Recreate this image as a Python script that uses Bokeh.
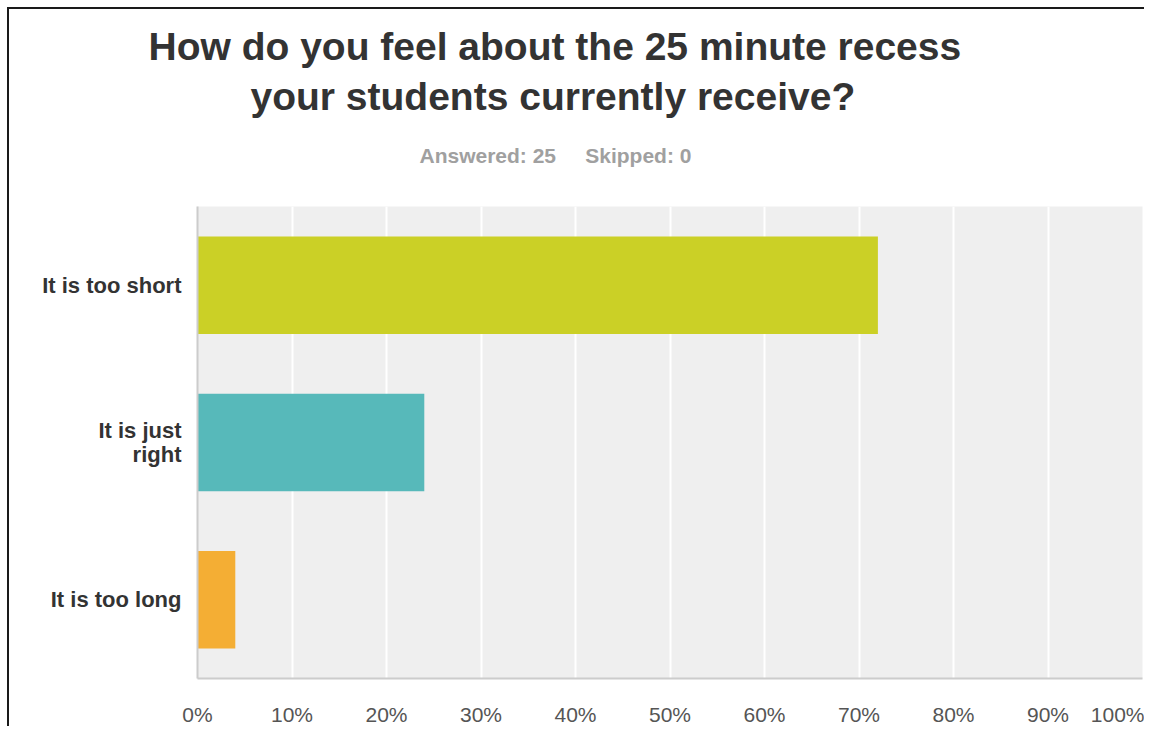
from bokeh.plotting import figure
from bokeh.models import FactorRange, Range1d, Title, FixedTicker, CustomJSTickFormatter
from bokeh.embed import file_html
from bokeh.resources import INLINE

categories = ["It is too short", "It is just right", "It is too long"]
category_labels = ["It is too short", "It is just\nright", "It is too long"]
percents = [72, 24, 4]
colors = ["#cbd026", "#57b9ba", "#f4ae34"]
x_ticks = [0, 10, 20, 30, 40, 50, 60, 70, 80, 90, 100]
title_lines = ["How do you feel about the 25 minute recess", "your students currently receive?"]
subtitle = "Answered: 25\u00a0\u00a0\u00a0\u00a0\u00a0Skipped: 0"

W, H = 1137, 719
p = figure(width=W, height=H, output_backend="svg", toolbar_location=None,
           y_range=FactorRange(factors=list(reversed(category_labels))),
           x_range=Range1d(0, 100),
           min_border_left=188, min_border_right=4, min_border_top=197, min_border_bottom=50)

p.hbar(y=category_labels, right=percents, left=0, height=0.62, fill_color=colors, line_color=None)

p.background_fill_color = "#efefef"
p.border_fill_color = "white"
p.outline_line_color = None

p.xgrid.ticker = FixedTicker(ticks=x_ticks)
p.xgrid.grid_line_color = "white"
p.xgrid.grid_line_width = 2
p.ygrid.grid_line_color = None

p.xaxis.ticker = FixedTicker(ticks=x_ticks)
p.xaxis.formatter = CustomJSTickFormatter(code="return tick + '%';")
p.xaxis.axis_line_color = "#cccccc"
p.xaxis.axis_line_width = 2
p.xaxis.major_tick_line_color = None
p.xaxis.minor_tick_line_color = None
p.xaxis.major_label_standoff = 18
p.xaxis.major_label_text_font = "Liberation Sans"
p.xaxis.major_label_text_font_size = "21px"
p.xaxis.major_label_text_color = "#555555"

p.yaxis.axis_line_color = "#cccccc"
p.yaxis.axis_line_width = 2
p.yaxis.major_tick_line_color = None
p.yaxis.minor_tick_line_color = None
p.yaxis.major_label_standoff = 10
p.yaxis.major_label_text_font = "Liberation Sans"
p.yaxis.major_label_text_font_style = "bold"
p.yaxis.major_label_text_font_size = "22px"
p.yaxis.major_label_text_line_height = 0.95
p.yaxis.major_label_text_color = "#333333"

p.add_layout(Title(text=subtitle, align="left", offset=222, standoff=36,
                   padding=dict(left=0, right=0, top=0, bottom=22),
                   text_font="Liberation Sans", text_font_style="bold",
                   text_font_size="21px", text_color="#a0a0a0"), "above")
p.add_layout(Title(text=title_lines[1], align="left", offset=53, standoff=11,
                   text_font="Liberation Sans", text_font_style="bold",
                   text_font_size="39px", text_color="#333333"), "above")
p.add_layout(Title(text=title_lines[0], align="left", offset=-49, standoff=0,
                   text_font="Liberation Sans", text_font_style="bold",
                   text_font_size="39px", text_color="#333333"), "above")

p.styles = {"border-top": "2px solid #1a1a1a", "border-left": "2px solid #1a1a1a",
            "margin-left": "7px", "margin-top": "7px"}

open("out.html", "w").write(file_html(p, INLINE))
